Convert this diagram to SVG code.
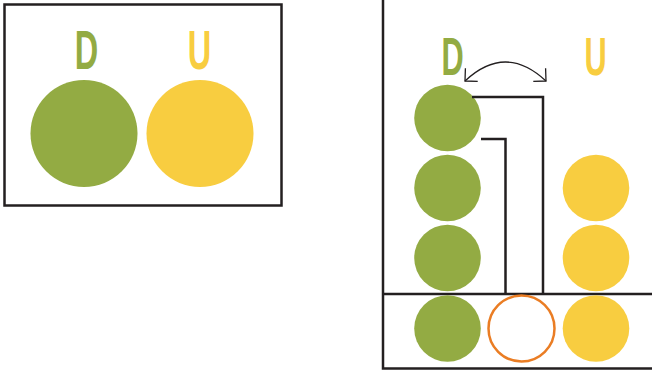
<svg xmlns="http://www.w3.org/2000/svg" width="652" height="372" viewBox="0 0 652 372">
<style>
.frame{fill:none;stroke:#231f20;stroke-width:2.5}
.g{fill:#93ab43}
.y{fill:#f8cd40}
.ring{fill:#fff;stroke:#ea7d24;stroke-width:2.5}
.lbl{font-family:"Liberation Sans",Arial,sans-serif;font-weight:bold;text-anchor:middle}
.lg{fill:#93ab43}
.ly{fill:#f8cd40}
.wire{fill:none;stroke:#231f20;stroke-width:2.5}
.arc{fill:none;stroke:#231f20;stroke-width:1.3}
</style>
<defs>
<marker id="ah" markerUnits="userSpaceOnUse" markerWidth="24" markerHeight="24" refX="12" refY="12" viewBox="0 0 24 24" orient="auto-start-reverse" overflow="visible">
<path d="M3,3 L12,12 L3,21" fill="none" stroke="#231f20" stroke-width="1.3"/>
</marker>
</defs>
<g id="legend">
<rect class="frame" x="4.5" y="4.5" width="277" height="201"/>
<circle class="g" cx="84" cy="133.5" r="53.5"/>
<circle class="y" cx="200" cy="133.5" r="53.5"/>
<text class="lbl lg" font-size="56" transform="translate(86.5,69) scale(0.58,1)">D</text>
<text class="lbl ly" font-size="56" transform="translate(199.5,69) scale(0.58,1)">U</text>
</g>
<g id="stack-frame">
<path class="frame" d="M383,0 V368.5 H652"/>
<line class="frame" x1="383" y1="294" x2="652" y2="294"/>
</g>
<g id="label-D"><text class="lbl lg" font-size="53" transform="translate(452.5,75) scale(0.58,1)">D</text></g>
<g id="label-U"><text class="lbl ly" font-size="53" transform="translate(595.5,75) scale(0.58,1)">U</text></g>
<g id="d1"><circle class="g" cx="447.5" cy="118" r="33.3"/></g>
<g id="d2"><circle class="g" cx="447.5" cy="188" r="33.3"/></g>
<g id="d3"><circle class="g" cx="447.5" cy="258" r="33.3"/></g>
<g id="d4"><circle class="g" cx="447.5" cy="328.5" r="33.3"/></g>
<g id="u1"><circle class="y" cx="596" cy="188" r="33.3"/></g>
<g id="u2"><circle class="y" cx="596" cy="258" r="33.3"/></g>
<g id="u3"><circle class="y" cx="596" cy="328.5" r="33.3"/></g>
<g id="empty"><circle class="ring" cx="521.5" cy="328.5" r="33"/></g>
<g id="connectors">
<path class="wire" d="M472,97 H543 V294"/>
<path class="wire" d="M481,139 H505.5 V294"/>
<path class="arc" d="M465,81 Q505.5,43 546,81" marker-start="url(#ah)" marker-end="url(#ah)"/>
</g>
</svg>
